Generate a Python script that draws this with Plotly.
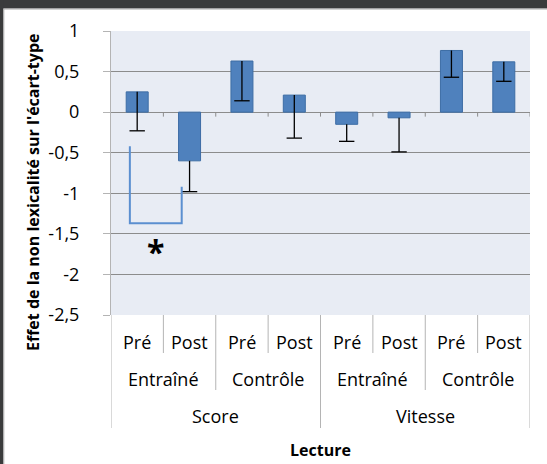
import plotly.graph_objects as go

# Data
phases   = ["Pré", "Post", "Pré", "Post", "Pré", "Post", "Pré", "Post"]
groups   = ["Entraîné", "Contrôle", "Entraîné", "Contrôle"]
measures = ["Score", "Vitesse"]
values   = [0.25, -0.60, 0.63, 0.21, -0.15, -0.07, 0.76, 0.62]
err_down = [0.48, 0.38, 0.49, 0.53, 0.21, 0.42, 0.33, 0.24]

tick_vals = [1, 0.5, 0, -0.5, -1, -1.5, -2, -2.5]
tick_text = ["1", "0,5", "0", "-0,5", "-1", "-1,5", "-2", "-2,5"]

# significance bracket between Score / Entraîné Pré and Post
bracket_x = [-0.14, -0.14, 0.85, 0.85]
bracket_y = [-0.42, -1.37, -1.37, -0.92]
star_x, star_y = 0.35, -1.72

FONT     = "Open Sans, sans-serif"
BAR      = "#4F81BD"
BAR_EDGE = "#3D6DA5"
GRID     = "#8C8C8C"
SEP      = "#B4B4B4"
FRAME    = "#3A3B3C"

W, H = 547, 464
L, R, T, B = 111, 17, 31, 149
plot_h = H - T - B
plot_w = W - L - R


def py(pix):
    ''' pixel row -> paper y '''
    return (H - B - pix) / plot_h


def px(pix):
    ''' pixel column -> paper x '''
    return (pix - L) / plot_w


def label(x, y, text, size, xref="x", yref="paper", **kw):
    return dict(x=x, y=y, xref=xref, yref=yref, text=text, showarrow=False,
                xanchor="center", yanchor="middle",
                font=dict(size=size, color="black", family=FONT), **kw)


x_idx   = list(range(len(values)))
err_low = [v - e for v, e in zip(values, err_down)]

fig = go.Figure()

fig.add_trace(go.Bar(
    x=x_idx,
    y=values,
    marker=dict(color=BAR, line=dict(color=BAR_EDGE, width=1)),
    error_y=dict(
        type="data",
        symmetric=False,
        array=[0] * len(values),
        arrayminus=err_down,
        color="black",
        thickness=1.3,
        width=0,
    ),
))

# caps only at the lower end of the error bars
fig.add_trace(go.Scatter(
    x=x_idx,
    y=err_low,
    mode="markers",
    marker=dict(symbol="line-ew", size=11, line=dict(color="black", width=1.3)),
    hoverinfo="skip",
))

fig.add_trace(go.Scatter(
    x=bracket_x,
    y=bracket_y,
    mode="lines",
    line=dict(color="#5B8FD0", width=2),
    hoverinfo="skip",
))

shapes = []
# ticks on the zero line at category boundaries
for b in [i + 0.5 for i in x_idx]:
    shapes.append(dict(type="line", xref="x", yref="y", x0=b, x1=b, y0=0, y1=-0.055,
                       line=dict(color=GRID, width=1)))

# separators in the category area
for b in [0.5, 2.5, 4.5, 6.5]:
    shapes.append(dict(type="line", xref="x", yref="paper", x0=b, x1=b, y0=0, y1=py(353),
                       line=dict(color=SEP, width=1)))
for b in [1.5, 5.5]:
    shapes.append(dict(type="line", xref="x", yref="paper", x0=b, x1=b, y0=0, y1=py(390),
                       line=dict(color=SEP, width=1)))
for b in [-0.5, 3.5, 7.5]:
    shapes.append(dict(type="line", xref="x", yref="paper", x0=b, x1=b, y0=0, y1=py(428),
                       line=dict(color=SEP, width=1)))

# dark window frame on top and left, with a thin grey inner edge
shapes.append(dict(type="rect", xref="paper", yref="paper", x0=px(-2), x1=px(W + 2), y0=py(-2), y1=py(8.5),
                   fillcolor=FRAME, line=dict(width=0)))
shapes.append(dict(type="rect", xref="paper", yref="paper", x0=px(-2), x1=px(3.3), y0=py(-2), y1=py(H + 2),
                   fillcolor=FRAME, line=dict(width=0)))
shapes.append(dict(type="line", xref="paper", yref="paper", x0=px(3.8), x1=px(W + 2), y0=py(9), y1=py(9),
                   line=dict(color="#A8A8A8", width=1)))
shapes.append(dict(type="line", xref="paper", yref="paper", x0=px(3.8), x1=px(3.8), y0=py(9), y1=py(H + 2),
                   line=dict(color="#A8A8A8", width=1)))

annotations = []
for i, lab in enumerate(phases):
    annotations.append(label(i, py(342), lab, 18))
for j, lab in enumerate(groups):
    annotations.append(label(2 * j + 0.5, py(379), lab, 18))
for k, lab in enumerate(measures):
    annotations.append(label(4 * k + 1.5, py(416), lab, 18))

annotations.append(label(3.5, py(450), "<b>Lecture</b>", 16))
annotations.append(label(px(33), py(193), "<b>Effet de la non lexicalité sur l'écart-type</b>", 16,
                         xref="paper", textangle=-90))
annotations.append(label(star_x, star_y, "<b>*</b>", 32, yref="y"))

fig.update_layout(
    width=W,
    height=H,
    margin=dict(l=L, r=R, t=T, b=B, pad=0),
    paper_bgcolor="white",
    plot_bgcolor="#E8ECF4",
    showlegend=False,
    bargap=0.58,
    shapes=shapes,
    annotations=annotations,
    font=dict(family=FONT, size=16, color="black"),
)

fig.update_xaxes(
    range=[-0.5, 7.5],
    showticklabels=False,
    showgrid=False,
    zeroline=False,
    showline=False,
    ticks="",
)

fig.update_yaxes(
    range=[-2.5, 1],
    tickvals=tick_vals,
    ticktext=tick_text,
    showgrid=True,
    gridcolor=GRID,
    gridwidth=1,
    zeroline=True,
    zerolinecolor=GRID,
    zerolinewidth=1,
    showline=True,
    linecolor=SEP,
    linewidth=1,
    ticks="outside",
    ticklen=7,
    tickcolor=SEP,
    ticklabelstandoff=20,
    tickfont=dict(size=18, color="black", family=FONT),
)

# page body has a default 8px margin; drop it so the figure sits at the window corner
fig.write_html(
    "out.html",
    config={"displayModeBar": False},
    post_script="document.body.style.margin='0';",
)
